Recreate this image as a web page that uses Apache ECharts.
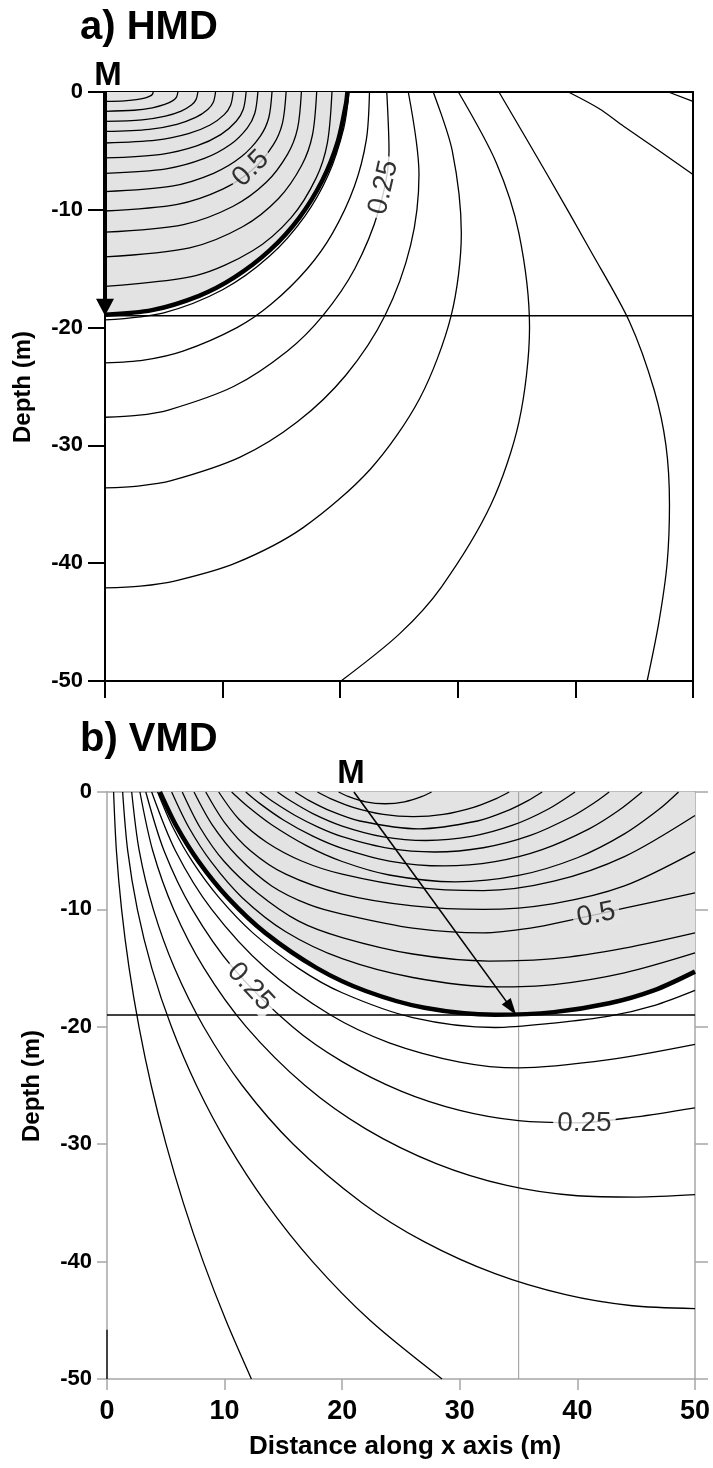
<!DOCTYPE html>
<html>
<head>
<meta charset="utf-8">
<script src="https://cdn.jsdelivr.net/npm/echarts@6/dist/echarts.min.js"></script>
<style>
html,body{margin:0;padding:0;background:#fff;}
#chart{width:713px;height:1468px;}
</style>
</head>
<body>
<div id="chart"></div>
<script>
// ---------------- DATA ----------------
// Panel a) HMD : contour lines [x (m), depth (m)]
const hmdThick = [[0,-18.91],[4,-18.52],[8,-17.3],[11,-15.74],[14,-13.45],[16.5,-10.7],[18.5,-7.47],[19.8,-4.2],[20.5,-0.96],[20.61,0]];
const hmdInner = [
  [[0,-0.8],[1.64,-0.76],[2.67,-0.65],[3.36,-0.52],[3.81,-0.35],[4.02,-0.21],[4.1,0]],
  [[0,-1.64],[2.48,-1.55],[4.03,-1.34],[5.08,-1.06],[5.77,-0.73],[6.08,-0.43],[6.2,0]],
  [[0,-2.5],[3.16,-2.36],[5.14,-2.04],[6.48,-1.62],[7.35,-1.11],[7.74,-0.65],[7.9,0]],
  [[0,-3.35],[3.76,-3.17],[6.11,-2.74],[7.71,-2.16],[8.74,-1.48],[9.21,-0.87],[9.4,0]],
  [[0,-4.33],[4.36,-4.09],[7.09,-3.54],[8.94,-2.8],[10.14,-1.92],[10.68,-1.13],[10.9,0]],
  [[0,-5.6],[4.8,-5.29],[7.8,-4.58],[9.84,-3.62],[11.16,-2.48],[11.76,-1.46],[12.0,0]],
  [[0,-6.9],[5.2,-6.52],[8.45,-5.64],[10.66,-4.46],[12.09,-3.06],[12.74,-1.8],[13.0,0]],
  [[0,-8.45],[5.68,-7.99],[9.23,-6.9],[11.64,-5.46],[13.21,-3.74],[13.92,-2.21],[14.2,0]],
  [[0,-10.1],[6.16,-9.54],[10.01,-8.25],[12.63,-6.52],[14.32,-4.47],[15.09,-2.64],[15.4,0]],
  [[0,-11.9],[6.68,-11.25],[10.86,-9.72],[13.69,-7.69],[15.53,-5.27],[16.37,-3.11],[16.7,0]],
  [[0,-14.0],[7.2,-13.23],[11.7,-11.44],[14.76,-9.04],[16.74,-6.2],[17.64,-3.65],[18.0,0]],
  [[0,-16.5],[7.72,-15.59],[12.55,-13.48],[15.83,-10.66],[17.95,-7.31],[18.91,-4.31],[19.3,0]]
];
const hmdOuter = [
  [[0,-19.35],[5,-18.74],[10,-16.79],[14,-13.93],[17,-10.53],[19,-7.01],[20.3,-3.08],[20.75,0]],
  [[0,-23.0],[3.3,-22.76],[6.63,-22],[11.22,-20],[14.14,-18],[17.2,-15],[19.34,-12],[21.21,-8],[22.23,-4],[22.49,0]],
  [[0,-27.61],[2.7,-27.46],[5.39,-27],[10.93,-25],[15.49,-22],[18.51,-19],[21.24,-15],[23.29,-10],[24.15,-5],[23.96,0]],
  [[0,-33.6],[2.8,-33.45],[5.63,-33],[11.49,-31],[16.36,-28],[20.51,-24],[23.8,-19],[25.99,-13],[26.7,-7],[25.79,0]],
  [[0,-42.1],[3,-41.95],[6.0,-41.5],[11.09,-40],[16.82,-37],[22.58,-32],[26.77,-26],[29.43,-19],[30.3,-12],[29.53,-5],[27.91,0]],
  [[20.07,-50],[25.04,-46],[28.62,-42],[32.83,-35],[35.2,-28],[36.1,-20],[35.2,-12],[33.27,-6],[30.05,0]],
  [[46.1,-50],[47.1,-45],[47.8,-40],[48.0,-35],[47.7,-30],[46.7,-25.3],[44.6,-19.5],[41.3,-13.5],[37.6,-7],[33.5,0]],
  [[50,-7.0],[47,-4.9],[44.1,-2.9],[42,-1.4],[39.4,0]],
  [[50,-0.8],[47.9,0]]
];
const hmdHorizon = [[0,-19],[50,-19]];
const hmdArrow = [0,0,0,-19];
const hmdLabelText = ['0.5','0.25'];
const hmdLabelPos = [[12.4,-6.5],[23.7,-8.1]];

// Panel b) VMD
const vmdThick = [[4.5,0],[5.95,-3],[7.84,-6],[10.27,-9],[13.46,-12],[17.85,-15],[22,-16.95],[27,-18.38],[33,-18.97],[38,-18.75],[42.7,-18.0],[46.5,-16.9],[50,-15.3]];
const vmdInner = [
  [[5.5,0],[6.95,-3],[8.9,-6],[11.5,-9],[15.2,-11.9],[20,-14.2],[26,-15.8],[33,-16.6],[38,-16.4],[44,-15.4],[50,-13.7]],
  [[6.4,0],[7.9,-3],[9.95,-5.9],[12.8,-8.6],[16.3,-11.0],[20,-12.4],[26,-13.8],[32.5,-14.4],[38,-14.2],[44,-13.3],[50,-12.0]],
  [[7.4,0],[8.95,-2.8],[11.1,-5.5],[14.0,-8.0],[17.2,-9.6],[20,-10.4],[26,-11.6],[32,-12.0],[36,-11.6],[39.5,-10.9],[44,-9.9],[50,-8.6]],
  [[8.4,0],[10.0,-2.6],[12.2,-5.0],[15.2,-7.0],[20,-8.7],[26,-9.7],[32,-10.0],[38,-9.5],[44,-8.0],[50,-5.1]],
  [[9.5,0],[11.2,-2.3],[13.6,-4.3],[16.6,-5.9],[20,-7.0],[26,-8.1],[32,-8.4],[38,-7.6],[44,-5.5],[50,-2.0]],
  [[10.6,0],[12,-1.26],[14,-2.79],[17,-4.59],[20,-5.92],[24,-7.07],[29.6,-7.65],[35,-7.11],[40,-5.6],[44,-3.57],[47,-1.43],[48.6,0]],
  [[11.8,0],[13,-0.99],[15,-2.38],[17.5,-3.76],[20,-4.8],[24,-5.88],[28.65,-6.3],[33,-5.93],[37,-4.91],[41,-3.14],[43.5,-1.58],[45.5,0]],
  [[13,0],[14.2,-0.88],[16,-2.0],[18,-3.01],[20,-3.8],[24,-4.81],[27.85,-5.11],[32,-4.75],[36,-3.7],[39.5,-2.11],[41.5,-0.88],[42.7,0]],
  [[14.5,0],[15.6,-0.75],[17.5,-1.84],[20,-2.9],[23.5,-3.82],[27.15,-4.13],[31,-3.78],[34.5,-2.83],[37.5,-1.47],[39.8,0]],
  [[16,0],[17.2,-0.73],[19,-1.61],[21.5,-2.47],[26.5,-3.14],[31.5,-2.47],[34,-1.61],[35.8,-0.73],[37,0]],
  [[17.9,0],[19,-0.56],[21,-1.33],[23.5,-1.91],[26.05,-2.1],[28.6,-1.91],[31.1,-1.33],[33.1,-0.56],[34.2,0]],
  [[19.7,0],[20.5,-0.38],[22,-0.84],[23.65,-1.0],[25.3,-0.84],[26.8,-0.38],[27.6,0]]
];
const vmdOuter = [
  [[0,-45.8],[0,-50]],
  [[0.56,0],[0.8,-5],[1.24,-10],[1.88,-15],[2.72,-20],[3.76,-25],[5.02,-30],[6.49,-35],[8.18,-40],[10.11,-45],[12.28,-50]],
  [[1.33,0],[1.76,-5],[2.58,-10],[3.81,-15],[5.48,-20],[7.61,-25],[10.26,-30],[13.51,-35],[17.48,-40],[22.36,-45],[28.49,-50]],
  [[2.1,0],[2.74,-5],[3.94,-10],[5.74,-15],[8.22,-20],[11.5,-25],[15.84,-30],[21.7,-35],[27,-38.32],[33,-41.03],[39,-42.82],[44.5,-43.74],[50,-44.0]],
  [[2.8,0],[3.89,-5],[5.67,-10],[8.25,-15],[11.84,-20],[16.84,-25],[22,-28.69],[28,-31.65],[34,-33.51],[40,-34.39],[45,-34.5],[50,-34.3]],
  [[3.3,0],[4.85,-5],[7.25,-10],[10.73,-15],[15.77,-20],[20,-22.97],[25,-25.48],[30,-27.12],[35,-28.0],[40,-28.18],[45,-27.67],[50,-26.9]],
  [[3.8,0],[5.82,-5],[8.9,-10],[13.48,-15],[19.01,-19],[24,-21.36],[30,-23.0],[35,-23.5],[42.7,-22.8],[50,-21.5]],
  [[4.3,0],[5.6,-3],[7.31,-6],[9.53,-9],[12.4,-12],[16.26,-15],[20,-17.1],[26,-19.21],[33,-20.06],[38,-19.68],[42.7,-19.1],[46.5,-18.2],[50,-16.9]]
];
const vmdHorizon = [[0,-19],[50,-19]];
const vmdVertical = [[35,0],[35,-50]];
const vmdArrow = [21,0,34.8,-19];
const vmdLabelText = ['0.5','0.25','0.25'];
const vmdLabelPos = [[41.6,-10.45],[12.2,-16.6],[40.6,-28.2]];

// ---------------- STYLE ----------------
const FONT = "'Liberation Sans', Arial, Helvetica, sans-serif";
const SHADE = '#e3e3e3';
const GRAY = '#a6a6a6';
const SMOOTH = 0.3;

const chart = echarts.init(document.getElementById('chart'), null, {renderer:'canvas'});

function contour(xi, yi, data, width, z) {
  return {type:'line', xAxisIndex:xi, yAxisIndex:yi, data:data, smooth:SMOOTH, symbol:'none',
    lineStyle:{color:'#000', width:width}, z:z, silent:true, clip:true};
}
function fill(xi, yi, data) {
  return {type:'line', xAxisIndex:xi, yAxisIndex:yi, data:data, smooth:SMOOTH, symbol:'none',
    lineStyle:{opacity:0, width:0}, areaStyle:{color:SHADE, opacity:1, origin:'end'}, z:1, silent:true};
}
function labels(xi, yi, texts, pos, rots, bgs) {
  return {type:'scatter', xAxisIndex:xi, yAxisIndex:yi, symbolSize:0.1, itemStyle:{color:'transparent'}, z:5, silent:true,
    data: pos.map((p,i)=>({value:p, label:{show:true, formatter:texts[i], position:'inside', rotate:rots[i],
      fontSize:28, fontFamily:FONT, color:'#000', backgroundColor:bgs[i], padding:[0,4], lineHeight:28}}))};
}
function arrow(xi, yi, arr, lw, headLen, headHalfW) {
  return {type:'custom', xAxisIndex:xi, yAxisIndex:yi, coordinateSystem:'cartesian2d', clip:false, z:6, silent:true,
    encode:{x:[0,2], y:[1,3]}, data:[arr],
    renderItem:function(params, api){
      const p1 = api.coord([api.value(0), api.value(1)]);
      const p2 = api.coord([api.value(2), api.value(3)]);
      const dx = p2[0]-p1[0], dy = p2[1]-p1[1], L = Math.hypot(dx,dy);
      const ux = dx/L, uy = dy/L, nx = -uy, ny = ux;
      const bx = p2[0]-ux*headLen, by = p2[1]-uy*headLen;
      return {type:'group', children:[
        {type:'line', shape:{x1:p1[0], y1:p1[1], x2:bx+ux, y2:by+uy}, style:{stroke:'#000', lineWidth:lw}},
        {type:'polygon', shape:{points:[[p2[0],p2[1]],[bx+nx*headHalfW, by+ny*headHalfW],[bx-nx*headHalfW, by-ny*headHalfW]]}, style:{fill:'#000'}}
      ]};
    }};
}

const series = [];
// Panel a
series.push(fill(0,0,hmdThick));
hmdInner.forEach(d=>series.push(contour(0,0,d,1.3,2)));
hmdOuter.forEach(d=>series.push(contour(0,0,d,1.3,2)));
series.push(contour(0,0,hmdThick,4.5,3));
series.push({type:'line', xAxisIndex:0, yAxisIndex:0, data:hmdHorizon, symbol:'none', lineStyle:{color:'#000', width:1.6}, z:3, silent:true});
series.push(labels(0,0,hmdLabelText,hmdLabelPos,[45,77],[SHADE,'#fff']));
series.push(arrow(0,0,hmdArrow,4,17,9));
// Panel b
series.push(fill(2,2,vmdThick));
series.push({type:'line', xAxisIndex:2, yAxisIndex:2, data:vmdVertical, symbol:'none', lineStyle:{color:GRAY, width:1.2}, z:1.5, silent:true});
vmdInner.forEach(d=>series.push(contour(2,2,d,1.3,2)));
vmdOuter.forEach(d=>series.push(contour(2,2,d,1.3,2)));
series.push(contour(2,2,vmdThick,4.5,3));
series.push({type:'line', xAxisIndex:2, yAxisIndex:2, data:vmdHorizon, symbol:'none', lineStyle:{color:'#000', width:1.6}, z:3, silent:true});
series.push(labels(2,2,vmdLabelText,vmdLabelPos,[12,-47,0],[SHADE,'#fff','#fff']));
series.push(arrow(2,2,vmdArrow,1.6,17,5.5));

function xAx(grid, pos, color, w, tickLen, showLabel, labelSize) {
  return {gridIndex:grid, type:'value', min:0, max:50, interval:10, position:pos,
    axisLine:{show:true, onZero:false, lineStyle:{color:color, width:w}},
    axisTick:{show:tickLen>0, length:tickLen, lineStyle:{color:color, width:w}},
    axisLabel:{show:showLabel, fontSize:labelSize, fontWeight:'bold', fontFamily:FONT, color:'#000', margin:19},
    splitLine:{show:false}};
}
function yAx(grid, pos, color, w, tickLen, showLabel, margin) {
  return {gridIndex:grid, type:'value', min:-50, max:0, interval:10, position:pos,
    axisLine:{show:true, onZero:false, lineStyle:{color:color, width:w}},
    axisTick:{show:tickLen>0, length:tickLen, lineStyle:{color:color, width:w}},
    axisLabel:{show:showLabel, fontSize:22, fontWeight:'bold', fontFamily:FONT, color:'#000', margin:margin},
    splitLine:{show:false}};
}

const option = {
  animation:false,
  backgroundColor:'#fff',
  grid:[
    {left:105, top:92, width:588, height:589},
    {left:107, top:792, width:588, height:587}
  ],
  xAxis:[
    xAx(0,'bottom','#000',2,17,false,27),
    xAx(0,'top','#000',2,0,false,27),
    xAx(1,'bottom',GRAY,1.5,11,true,27),
    xAx(1,'top',GRAY,1.5,0,false,27)
  ],
  yAxis:[
    yAx(0,'left','#000',2,17,true,22),
    yAx(0,'right','#000',2,0,false,22),
    yAx(1,'left',GRAY,1.5,10,true,15),
    yAx(1,'right',GRAY,1.5,13,false,15)
  ],
  series:series,
  graphic:[
    {type:'text', x:80, y:28, style:{text:'a) HMD', font:'bold 40px '+FONT, fill:'#000', textAlign:'left', textVerticalAlign:'middle', align:'left', verticalAlign:'middle'}},
    {type:'text', x:80, y:740, style:{text:'b) VMD', font:'bold 40px '+FONT, fill:'#000', textAlign:'left', textVerticalAlign:'middle', align:'left', verticalAlign:'middle'}},
    {type:'text', x:108, y:76, style:{text:'M', font:'bold 33px '+FONT, fill:'#000', textAlign:'center', textVerticalAlign:'middle', align:'center', verticalAlign:'middle'}},
    {type:'text', x:351, y:774, style:{text:'M', font:'bold 33px '+FONT, fill:'#000', textAlign:'center', textVerticalAlign:'middle', align:'center', verticalAlign:'middle'}},
    {type:'text', x:23, y:387, rotation:Math.PI/2, style:{text:'Depth (m)', font:'bold 24px '+FONT, fill:'#000', textAlign:'center', textVerticalAlign:'middle', align:'center', verticalAlign:'middle'}},
    {type:'text', x:32, y:1086, rotation:Math.PI/2, style:{text:'Depth (m)', font:'bold 24px '+FONT, fill:'#000', textAlign:'center', textVerticalAlign:'middle', align:'center', verticalAlign:'middle'}},
    {type:'text', x:405, y:1447, style:{text:'Distance along x axis (m)', font:'bold 26px '+FONT, fill:'#000', textAlign:'center', textVerticalAlign:'middle', align:'center', verticalAlign:'middle'}}
  ]
};
chart.setOption(option);
</script>
</body>
</html>
